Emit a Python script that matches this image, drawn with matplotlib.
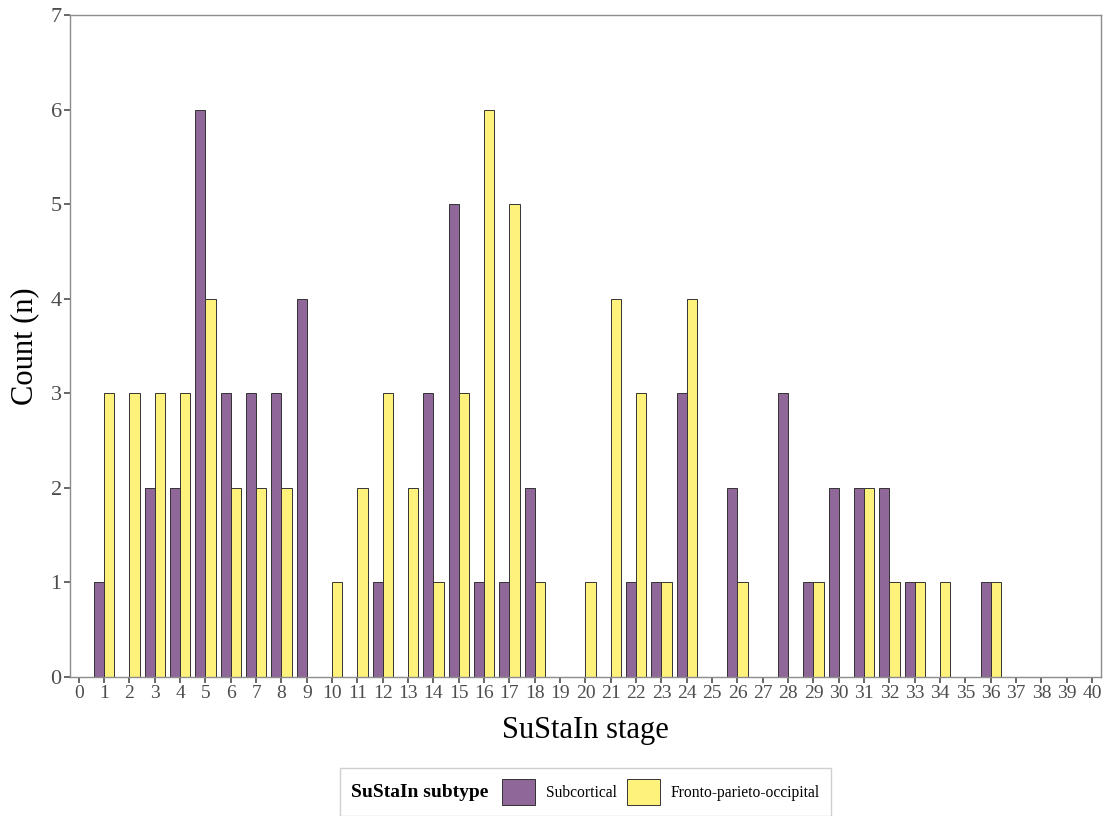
import numpy as np
import matplotlib.pyplot as plt
from matplotlib.patches import Patch
from matplotlib.offsetbox import HPacker

plt.rcParams['font.family'] = ['Liberation Serif', 'DejaVu Serif']

stages = np.arange(0, 41)
subcortical = [0, 1, 0, 2, 2, 6, 3, 3, 3, 4, 0, 0, 1, 0, 3, 5, 1, 1, 2, 0,
               0, 0, 1, 1, 3, 0, 2, 0, 3, 1, 2, 2, 2, 1, 0, 0, 1, 0, 0, 0, 0]
fronto = [0, 3, 3, 3, 3, 4, 2, 2, 2, 0, 1, 2, 3, 2, 1, 3, 6, 5, 1, 0,
          1, 4, 3, 1, 4, 0, 1, 0, 0, 1, 0, 2, 1, 1, 1, 0, 1, 0, 0, 0, 0]
labels = ['Subcortical', 'Fronto-parieto-occipital']
colors = ['#8F6798', '#FEF17C']

fig = plt.figure(figsize=(11.07, 8.16), dpi=100)
ax = fig.add_axes([0.0632, 0.1703, 0.9314, 0.8113])

w = 0.4
sub = np.array(subcortical)
fro = np.array(fronto)
m1 = sub > 0
m2 = fro > 0
ax.bar(stages[m1] - w / 2, sub[m1], width=w, color=colors[0],
       edgecolor='#333333', linewidth=0.7)
ax.bar(stages[m2] + w / 2, fro[m2], width=w, color=colors[1],
       edgecolor='#333333', linewidth=0.7)

ax.set_xlim(-0.35, 40.35)
ax.set_ylim(0, 7)
ax.set_xticks(stages)
ax.set_yticks(range(0, 8))
ax.tick_params(axis='x', labelsize=14, colors='#4D4D4D', length=4, width=1.2, pad=2)
ax.tick_params(axis='y', labelsize=16, colors='#4D4D4D', length=4, width=1.2, pad=2)
for s in ax.spines.values():
    s.set_color('#8C8C8C')
    s.set_linewidth(1)

ax.set_xlabel('SuStaIn stage', fontsize=22, labelpad=10)
ax.set_ylabel('Count (n)', fontsize=22, labelpad=8)

# legend with title placed to the left of the keys, like ggplot's bottom legend
fs = 11.2
handles = [Patch(facecolor=c, edgecolor='#333333', linewidth=0.7) for c in colors]
leg = fig.legend(handles, labels, title='SuStaIn subtype', ncol=2,
                 loc='center', bbox_to_anchor=(0.5289, 0.0294),
                 fontsize=fs, title_fontproperties={'weight': 'bold', 'size': 14},
                 frameon=True, fancybox=False, edgecolor='#C4C4C4',
                 handlelength=2.1, handleheight=2.15, handletextpad=0.7,
                 columnspacing=0.7, borderpad=0.5)
leg.get_frame().set_linewidth(1)
box = HPacker(pad=0.5 * fs * 100 / 72, sep=10, align='center',
              children=[leg._legend_title_box, leg._legend_handle_box])
box.set_figure(fig)
box.set_offset(leg._findoffset)
leg._legend_box = box

fig.savefig('out.png', dpi=100)
